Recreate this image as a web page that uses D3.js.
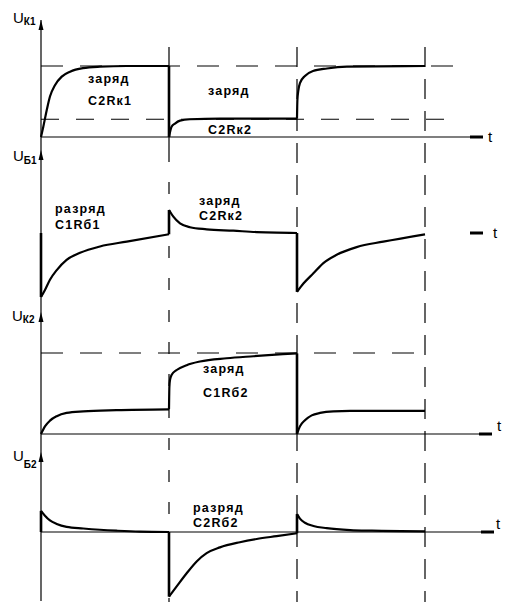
<!DOCTYPE html>
<html>
<head>
<meta charset="utf-8">
<script src="https://cdn.jsdelivr.net/npm/d3@7"></script>
<style>
  body { margin: 0; background: #fff; }
  text { font-family: "Liberation Sans", Arial, sans-serif; fill: #000; }
</style>
</head>
<body>
<svg id="chart" width="507" height="606"></svg>
<script>
// time in half-periods: 0..3 ; values are relative levels of each trace
var tGuides = [1, 2, 3];

// U_K1 : segments between switchings
var uk1 = [
  [[0,0],[0.018,0.145],[0.045,0.38],[0.07,0.57],[0.109,0.73],[0.162,0.85],[0.227,0.92],[0.328,0.97],[0.461,0.99],[0.67,1],[1,1]],
  [[1,0],[1.02,0.145],[1.047,0.19],[1.086,0.23],[1.164,0.25],[1.4,0.26],[2,0.26]],
  [[2,0.26],[2.003,0.52],[2.01,0.65],[2.023,0.76],[2.062,0.86],[2.125,0.93],[2.234,0.965],[2.39,0.99],[3,1]]
];
var uk1Levels = [1, 0.25];

// U_B1
var ub1 = [
  [[0,0]],
  [[0,-1],[0.031,-0.89],[0.07,-0.73],[0.123,-0.58],[0.2,-0.42],[0.305,-0.31],[0.461,-0.21],[0.67,-0.135],[1,-0.02]],
  [[1,0.36],[1.034,0.255],[1.086,0.15],[1.164,0.09],[1.294,0.058],[1.502,0.036],[1.685,0.015],[1.84,0.005],[2,0]],
  [[2,-0.92],[2.05,-0.79],[2.128,-0.63],[2.206,-0.47],[2.31,-0.34],[2.466,-0.22],[2.674,-0.135],[3,-0.02]]
];

// U_K2
var uk2 = [
  [[0,0],[0.031,0.094],[0.07,0.165],[0.123,0.22],[0.2,0.26],[0.33,0.28],[0.59,0.295],[1,0.305]],
  [[1,0.305],[1.003,0.58],[1.008,0.67],[1.021,0.73],[1.06,0.79],[1.138,0.85],[1.242,0.895],[1.45,0.935],[1.66,0.96],[1.89,0.985],[2,0.995]],
  [[2,0],[2.023,0.094],[2.062,0.17],[2.115,0.23],[2.18,0.26],[2.284,0.28],[2.416,0.285],[3,0.285]]
];
var uk2Levels = [1];

// U_B2
var ub2 = [
  [[0,0]],
  [[0,0.33],[0.031,0.255],[0.07,0.18],[0.123,0.125],[0.2,0.08],[0.33,0.055],[0.46,0.035],[0.59,0.02],[0.77,0.005],[1,0]],
  [[1,-1.01],[1.06,-0.85],[1.138,-0.645],[1.216,-0.46],[1.294,-0.33],[1.398,-0.24],[1.554,-0.16],[1.685,-0.11],[1.841,-0.065],[2,-0.02]],
  [[2,0.28],[2.023,0.21],[2.062,0.145],[2.128,0.094],[2.232,0.06],[2.416,0.03],[2.585,0.02],[3,0.01]]
];

var axisSubs = ["К1", "Б1", "К2", "Б2"];
var notes = [
  ["заряд", "C2Rк1"], ["заряд", "C2Rк2"],
  ["разряд", "C1Rб1"], ["заряд", "C2Rк2"],
  ["заряд", "C1Rб2"],
  ["разряд", "C2Rб2"]
];

var svg = d3.select("#chart");
var x = d3.scaleLinear().domain([0, 3]).range([41, 425]);

// panel layout
var panels = [
  {data: uk1, levels: uk1Levels, y: d3.scaleLinear().domain([0,1]).range([137,66]), levelEnd: 3.23,
   axis: true, axisEnd: 483, arrowTop: 20, lab: [13,23,25], tlab: [488,142],
   notes: [[0,88,83,105],[1,208,95,134]]},
  {data: ub1, levels: [], y: d3.scaleLinear().domain([0,-1]).range([233,297]),
   axis: false, axisEnd: 483, arrowTop: 150, lab: [13,161,164], tlab: [493,238],
   notes: [[2,55,213,229],[3,199,205,220]]},
  {data: uk2, levels: uk2Levels, y: d3.scaleLinear().domain([0,1]).range([434,353]), levelEnd: 3,
   axis: true, axisEnd: 492, arrowTop: 312, lab: [12,321,323], tlab: [497,431],
   notes: [[4,203,373,397]]},
  {data: ub2, levels: [], y: d3.scaleLinear().domain([0,-1]).range([532,596]),
   axis: true, axisEnd: 494, arrowTop: 452, lab: [13,461,468], tlab: [496,529],
   notes: [[5,193,512,527]]}
];

var line = d3.line().x(d => x(d[0])).y(d => y(d[1])).curve(d3.curveMonotoneX);
var y;

// vertical y axis
svg.append("line")
  .attr("x1", x(0)).attr("x2", x(0)).attr("y1", 20).attr("y2", 601)
  .attr("stroke", "#000").attr("stroke-width", 1.2);

// vertical guides at switching moments
tGuides.forEach(function(t){
  svg.append("line")
    .attr("x1", x(t)).attr("x2", x(t)).attr("y1", 47).attr("y2", 602)
    .attr("stroke", "#000").attr("stroke-width", 1.2)
    .attr("stroke-dasharray", t == 1 ? "103,0" : "20,12");
});
svg.append("line") // solid part of first guide, then dashed
  .attr("x1", x(1)).attr("x2", x(1)).attr("y1", 150).attr("y2", 602)
  .attr("stroke", "#fff").attr("stroke-width", 3)
  .attr("stroke-dasharray", "0,12,20,0");

panels.forEach(function(p, pi){
  y = p.y;
  var g = svg.append("g");

  // dashed reference levels
  p.levels.forEach(function(v){
    g.append("line")
      .attr("x1", x(0)).attr("x2", x(p.levelEnd)).attr("y1", y(v)).attr("y2", y(v))
      .attr("stroke", "#000").attr("stroke-width", 1.1)
      .attr("stroke-dasharray", pi == 0 && v < 1 ? "18,17" : "22,17");
  });

  // time axis
  if (p.axis) {
    g.append("line")
      .attr("x1", x(0)).attr("x2", p.axisEnd).attr("y1", y(0)).attr("y2", y(0))
      .attr("stroke", "#000").attr("stroke-width", 1.2);
  }
  g.append("line")
    .attr("x1", p.axisEnd - 13).attr("x2", p.axisEnd).attr("y1", y(0)).attr("y2", y(0))
    .attr("stroke", "#000").attr("stroke-width", 3);
  g.append("text").attr("x", p.tlab[0]).attr("y", p.tlab[1])
    .attr("font-size", 15).text("t");

  // y arrow
  var a = p.arrowTop;
  g.append("path")
    .attr("d", "M" + x(0) + "," + a + "l-2.5,10h5z")
    .attr("fill", "#000");
  var lb = g.append("text").attr("x", p.lab[0]).attr("y", p.lab[1]).attr("font-size", 15);
  lb.append("tspan").text("U");
  lb.append("tspan").attr("y", p.lab[2]).attr("font-size", 10).attr("font-weight", "bold")
    .text(axisSubs[pi]);

  // trace segments
  p.data.forEach(function(seg, si){
    if (seg.length > 1) {
      g.append("path").attr("d", line(seg))
        .attr("fill", "none").attr("stroke", "#000").attr("stroke-width", 2.2)
        .attr("stroke-linejoin", "round");
    }
    if (si > 0) {
      var prev = p.data[si - 1][p.data[si - 1].length - 1];
      if (prev[1] != seg[0][1]) {
        g.append("line")
          .attr("x1", x(seg[0][0])).attr("x2", x(seg[0][0]))
          .attr("y1", y(prev[1])).attr("y2", y(seg[0][1]))
          .attr("stroke", "#000").attr("stroke-width", 2.6);
      }
    }
  });

  // annotations
  p.notes.forEach(function(n){
    var txt = notes[n[0]];
    g.append("text").attr("x", n[1]).attr("y", n[2])
      .attr("font-size", 12.5).attr("font-weight", "bold").attr("letter-spacing", 1.2)
      .text(txt[0]);
    g.append("text").attr("x", n[1]).attr("y", n[3])
      .attr("font-size", 12.5).attr("font-weight", "bold").attr("letter-spacing", 1.2)
      .text(txt[1]);
  });
});
</script>
</body>
</html>
